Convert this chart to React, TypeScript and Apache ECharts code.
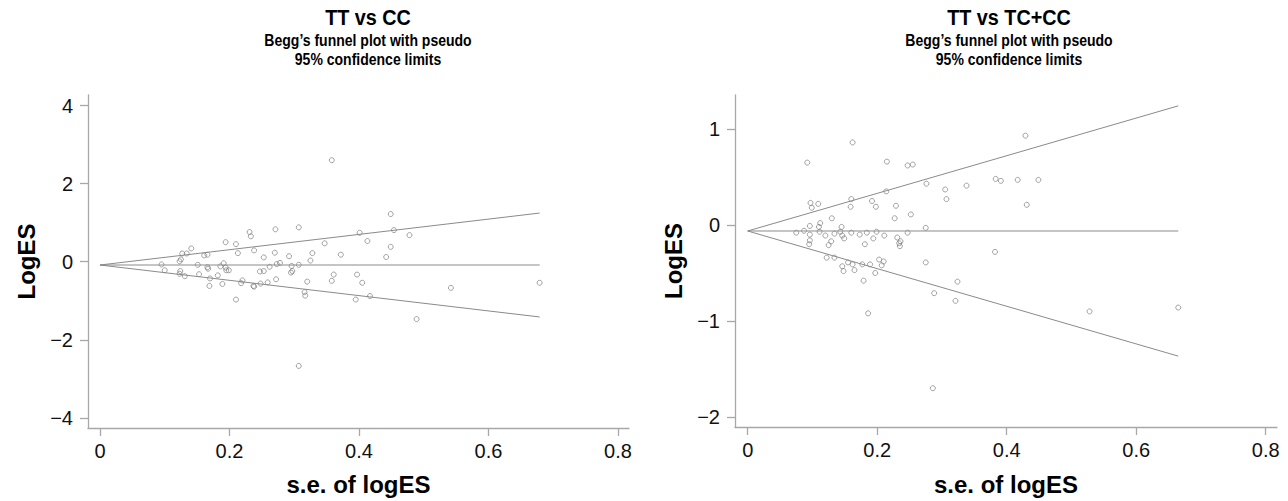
import React, { useEffect, useRef } from "react";
import * as echarts from "echarts";

// TT vs CC : standard error of logES and logES
const seCC = [
  0.358, 0.231, 0.233, 0.271, 0.307, 0.401, 0.413, 0.347, 0.372, 0.442,
  0.449, 0.194, 0.21, 0.141, 0.127, 0.134, 0.125, 0.123, 0.161, 0.166,
  0.213, 0.238, 0.253, 0.27, 0.292, 0.328, 0.325, 0.278, 0.273, 0.262,
  0.296, 0.307, 0.095, 0.1, 0.124, 0.123, 0.131, 0.151, 0.153, 0.166,
  0.167, 0.17, 0.169, 0.186, 0.191, 0.194, 0.195, 0.199, 0.182, 0.189,
  0.22, 0.218, 0.237, 0.238, 0.248, 0.259, 0.272, 0.247, 0.253, 0.295,
  0.297, 0.32, 0.358, 0.361, 0.397, 0.405, 0.21, 0.316, 0.317, 0.395,
  0.417, 0.307, 0.454, 0.478, 0.449, 0.542, 0.679, 0.489,
];
const esCC = [
  2.6, 0.76, 0.65, 0.83, 0.88, 0.74, 0.53, 0.47, 0.18, 0.12,
  1.22, 0.5, 0.45, 0.34, 0.21, 0.21, 0.06, 0.01, 0.16, 0.18,
  0.22, 0.29, 0.11, 0.23, 0.14, 0.22, 0.03, -0.03, -0.06, -0.13,
  -0.11, -0.08, -0.07, -0.22, -0.24, -0.31, -0.37, -0.08, -0.32, -0.14,
  -0.18, -0.43, -0.62, -0.12, -0.04, -0.15, -0.22, -0.22, -0.35, -0.57,
  -0.48, -0.55, -0.62, -0.64, -0.56, -0.53, -0.45, -0.25, -0.24, -0.28,
  -0.24, -0.51, -0.49, -0.33, -0.33, -0.54, -0.97, -0.78, -0.87, -0.97,
  -0.88, -2.67, 0.81, 0.68, 0.38, -0.67, -0.54, -1.47,
];

// TT vs TC+CC
const seTC = [
  0.162, 0.092, 0.215, 0.247, 0.255, 0.276, 0.305, 0.307, 0.338, 0.383,
  0.391, 0.214, 0.16, 0.159, 0.192, 0.198, 0.229, 0.252, 0.227, 0.097,
  0.099, 0.109, 0.13, 0.112, 0.096, 0.11, 0.087, 0.075, 0.111, 0.096,
  0.096, 0.095, 0.12, 0.129, 0.125, 0.145, 0.143, 0.134, 0.146, 0.149,
  0.16, 0.173, 0.184, 0.199, 0.194, 0.211, 0.181, 0.231, 0.236, 0.234,
  0.235, 0.247, 0.275, 0.382, 0.122, 0.134, 0.155, 0.162, 0.146, 0.148,
  0.165, 0.177, 0.189, 0.203, 0.21, 0.207, 0.197, 0.179, 0.275, 0.324,
  0.288, 0.321, 0.186, 0.286, 0.429, 0.417, 0.449, 0.431, 0.528, 0.665,
];
const esTC = [
  0.86, 0.65, 0.66, 0.62, 0.63, 0.43, 0.37, 0.27, 0.41, 0.48,
  0.46, 0.35, 0.27, 0.19, 0.25, 0.19, 0.2, 0.11, 0.07, 0.23,
  0.18, 0.22, 0.07, 0.02, -0.01, -0.02, -0.06, -0.08, -0.07, -0.1,
  -0.16, -0.2, -0.11, -0.17, -0.21, -0.02, -0.07, -0.09, -0.11, -0.14,
  -0.08, -0.1, -0.08, -0.07, -0.14, -0.11, -0.2, -0.13, -0.17, -0.19,
  -0.22, -0.08, -0.03, -0.28, -0.34, -0.34, -0.39, -0.41, -0.43, -0.48,
  -0.47, -0.41, -0.41, -0.36, -0.38, -0.42, -0.5, -0.58, -0.39, -0.59,
  -0.71, -0.79, -0.92, -1.7, 0.93, 0.47, 0.47, 0.21, -0.9, -0.86,
];

// pooled estimates and funnel extent (max s.e.)
const pooledCC = -0.085;
const seMaxCC = 0.679;
const pooledTC = -0.0625;
const seMaxTC = 0.665;

const xTicks = [0, 0.2, 0.4, 0.6, 0.8];
const yTicksCC = [-4, -2, 0, 2, 4];
const yTicksTC = [-2, -1, 0, 1];

const panelTitles = ["TT vs CC", "TT vs TC+CC"];
const subtitleLines = ["Begg\u2019s funnel plot with pseudo", "95% confidence limits"];
const xName = "s.e. of logES";
const yName = "LogES";

const FONT = "'Liberation Sans', Arial, Helvetica, sans-serif";
const AXIS_COLOR = "#a8a8a8";
const LINE_COLOR = "#8a8a8a";
const DOT_COLOR = "#6e6e6e";

const fmtY = (v: number) => (v < 0 ? "\u2212" + Math.abs(v) : String(v));
const fmtX = (v: number) => String(+v.toFixed(1));

function funnel(c: number, m: number) {
  return {
    upper: [
      [0, c],
      [m, c + 1.96 * m],
    ],
    mid: [
      [0, c],
      [m, c],
    ],
    lower: [
      [0, c],
      [m, c - 1.96 * m],
    ],
  };
}

export default function App() {
  const ref = useRef<HTMLDivElement>(null);

  useEffect(() => {
    if (!ref.current) return;
    const chart = echarts.init(ref.current, undefined, { renderer: "svg" });

    const grids = [
      { left: 88, top: 95, width: 541, height: 333 },
      { left: 735, top: 95, width: 542, height: 332 },
    ];
    const titleCenters = [368, 1009];
    const xRanges = [
      [-0.0185, 0.817],
      [-0.0196, 0.8175],
    ];
    const yRanges = [
      [-4.26, 4.27],
      [-2.104, 1.354],
    ];
    const yTickSets = [yTicksCC, yTicksTC];

    const xAxes = grids.map((_, i) => ({
      type: "value",
      gridIndex: i,
      min: xRanges[i][0],
      max: xRanges[i][1],
      axisLine: { show: true, onZero: false, lineStyle: { color: AXIS_COLOR, width: 1.3 } },
      axisTick: { show: true, customValues: xTicks, length: 8, lineStyle: { color: AXIS_COLOR, width: 1.3 } },
      axisLabel: {
        customValues: xTicks,
        formatter: fmtX,
        fontSize: 20,
        color: "#111",
        fontFamily: FONT,
        margin: 13,
      },
      splitLine: { show: false },
    }));

    const yAxes = grids.map((_, i) => ({
      type: "value",
      gridIndex: i,
      min: yRanges[i][0],
      max: yRanges[i][1],
      axisLine: { show: true, onZero: false, lineStyle: { color: AXIS_COLOR, width: 1.3 } },
      axisTick: { show: true, customValues: yTickSets[i], length: 8, lineStyle: { color: AXIS_COLOR, width: 1.3 } },
      axisLabel: {
        customValues: yTickSets[i],
        formatter: fmtY,
        fontSize: 20,
        color: "#111",
        fontFamily: FONT,
        margin: 15,
      },
      splitLine: { show: false },
    }));

    const f = [funnel(pooledCC, seMaxCC), funnel(pooledTC, seMaxTC)];
    const pts = [
      seCC.map((s, k) => [s, esCC[k]]),
      seTC.map((s, k) => [s, esTC[k]]),
    ];

    const series: any[] = [];
    [0, 1].forEach((i) => {
      (["upper", "mid", "lower"] as const).forEach((key) => {
        series.push({
          type: "line",
          xAxisIndex: i,
          yAxisIndex: i,
          data: (f[i] as any)[key],
          symbol: "none",
          silent: true,
          lineStyle: { color: LINE_COLOR, width: 1 },
        });
      });
      series.push({
        type: "scatter",
        xAxisIndex: i,
        yAxisIndex: i,
        data: pts[i],
        symbol: "circle",
        symbolSize: 5,
        itemStyle: { color: "rgba(255,255,255,0)", borderColor: DOT_COLOR, borderWidth: 0.8 },
      });
    });

    const graphics: any[] = [];
    grids.forEach((g, i) => {
      const cx = g.left + g.width / 2;
      const tx = titleCenters[i];
      graphics.push({
        type: "text",
        x: tx,
        y: 17,
        scaleX: 0.9,
        style: { text: panelTitles[i], font: `bold 22px ${FONT}`, fill: "#000", align: "center", verticalAlign: "middle" },
      });
      subtitleLines.forEach((line, k) => {
        graphics.push({
          type: "text",
          x: tx,
          y: 40 + k * 19,
          scaleX: 0.85,
          style: { text: line, font: `bold 16.5px ${FONT}`, fill: "#000", align: "center", verticalAlign: "middle" },
        });
      });
      graphics.push({
        type: "text",
        x: cx,
        y: 484,
        style: { text: xName, font: `bold 24px ${FONT}`, fill: "#000", align: "center", verticalAlign: "middle" },
      });
      graphics.push({
        type: "text",
        x: g.left - 62,
        y: g.top + g.height / 2,
        rotation: Math.PI / 2,
        style: { text: yName, font: `bold 24px ${FONT}`, fill: "#000", align: "center", verticalAlign: "middle" },
      });
    });

    chart.setOption({
      animation: false,
      backgroundColor: "#fff",
      grid: grids,
      xAxis: xAxes,
      yAxis: yAxes,
      series,
      graphic: graphics,
    });

    return () => chart.dispose();
  }, []);

  return <div ref={ref} style={{ position: "fixed", left: 0, top: 0, width: 1288, height: 501 }} />;
}
